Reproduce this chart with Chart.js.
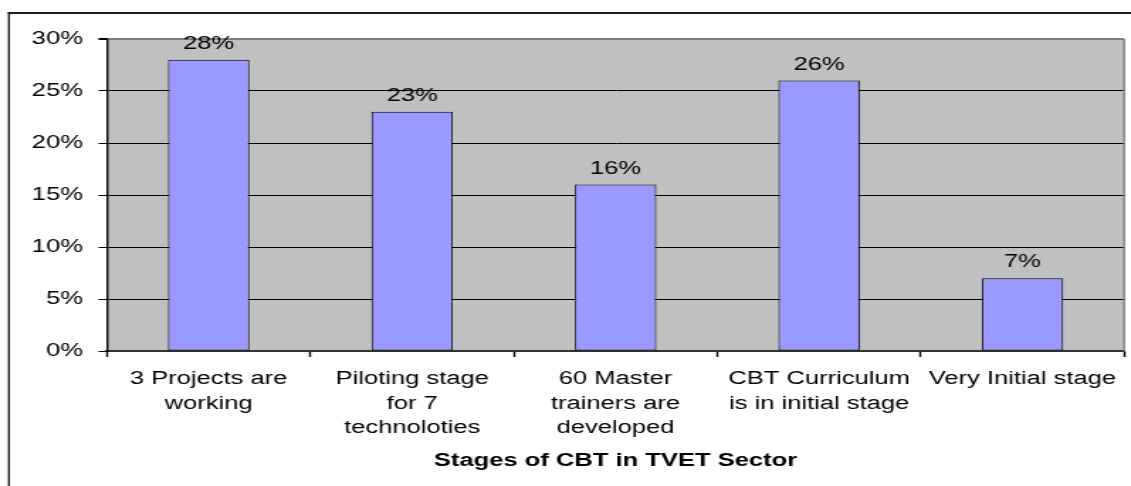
<!DOCTYPE html>
<html>
<head>
<meta charset="utf-8">
<script src="https://cdn.jsdelivr.net/npm/chart.js"></script>
<style>
    body { margin: 0; background: #fff; overflow: hidden; }
    /* the original picture is stretched sideways, so the canvas is too */
    canvas { display: block; transform: scaleX(1.419); transform-origin: 0 0; }
</style>
</head>
<body>
<canvas id="cbtChart" width="797" height="486"></canvas>
<script>
// chart data
const stages = [
    ['3 Projects are', 'working'],
    ['Piloting stage', 'for 7', 'technoloties'],
    ['60 Master', 'trainers are', 'developed'],
    ['CBT Curriculum', 'is in initial stage'],
    'Very Initial stage'
];
const shares = [28, 23, 16, 26, 7];
const yTicks = [0, 5, 10, 15, 20, 25, 30];
const axisTitle = 'Stages of CBT in TVET Sector';

const FONT = 'Arial, "Liberation Sans", sans-serif';

// grey plot background, outer frame and value labels
const frame = {
    id: 'frame',
    beforeDraw(chart) {
        const c = chart.ctx, a = chart.chartArea;
        c.save();
        c.fillStyle = '#fff';
        c.fillRect(0, 0, chart.width, chart.height);
        c.strokeStyle = '#1a1a1a';
        c.lineWidth = 2;
        c.beginPath();
        c.moveTo(5.6, 13);
        c.lineTo(chart.width + 5, 13);
        c.stroke();
        c.lineWidth = 1.4;
        c.beginPath();
        c.moveTo(6.3, 12);
        c.lineTo(6.3, chart.height + 5);
        c.stroke();
        c.fillStyle = '#C0C0C0';
        c.fillRect(a.left, a.top, a.right - a.left, a.bottom - a.top);
        c.restore();
    },
    afterDatasetsDraw(chart) {
        const c = chart.ctx, a = chart.chartArea;
        c.save();
        c.strokeStyle = '#808080';
        c.lineWidth = 1.4;
        c.beginPath();
        c.moveTo(a.right, a.top);
        c.lineTo(a.right, a.bottom);
        c.stroke();
        c.fillStyle = '#000';
        c.font = '18px ' + FONT;
        c.textAlign = 'center';
        c.textBaseline = 'alphabetic';
        chart.getDatasetMeta(0).data.forEach((bar, i) => {
            c.fillText(shares[i] + '%', bar.x, bar.y - 11);
        });
        c.restore();
    }
};

let ctx = document.getElementById('cbtChart').getContext('2d');
let cbtChart = new Chart(ctx, {
    type: 'bar',
    data: {
        labels: stages,
        datasets: [{
            data: shares,
            backgroundColor: '#9999FF',
            borderColor: '#000',
            borderWidth: 1,
            borderSkipped: false,
            categoryPercentage: 1,
            barPercentage: 0.4
        }]
    },
    options: {
        responsive: false,
        animation: false,
        layout: {
            padding: { left: 7, top: 39, right: 4, bottom: 0 }
        },
        plugins: {
            legend: { display: false },
            tooltip: { enabled: false }
        },
        scales: {
            x: {
                afterFit: (scale) => { scale.height = 135; },
                grid: {
                    offset: true,
                    drawOnChartArea: false,
                    tickLength: 6,
                    tickColor: '#000',
                    tickWidth: 1.4
                },
                border: { color: '#333', width: 2 },
                ticks: {
                    color: '#000',
                    padding: 10,
                    maxRotation: 0,
                    minRotation: 0,
                    autoSkip: false,
                    font: { size: 18, family: FONT, lineHeight: '24.5px' }
                },
                title: {
                    display: true,
                    text: axisTitle,
                    color: '#000',
                    padding: { top: 4, bottom: 14 },
                    font: { size: 18, weight: 'bold', family: FONT }
                }
            },
            y: {
                min: yTicks[0],
                max: yTicks[yTicks.length - 1],
                afterFit: (scale) => { scale.width = 68.4; },
                afterBuildTicks: (scale) => {
                    scale.ticks = yTicks.map(v => ({ value: v }));
                },
                grid: {
                    color: (c) => c.tick && c.tick.value === 30 ? '#808080' : '#000',
                    lineWidth: (c) => c.tick && c.tick.value === 30 ? 2 : 1,
                    tickColor: '#000',
                    tickLength: 6
                },
                border: { color: '#000', width: 1.4 },
                ticks: {
                    color: '#000',
                    padding: 11,
                    font: { size: 18, family: FONT },
                    callback: (v) => v + '%'
                }
            }
        }
    },
    plugins: [frame]
});
</script>
</body>
</html>
